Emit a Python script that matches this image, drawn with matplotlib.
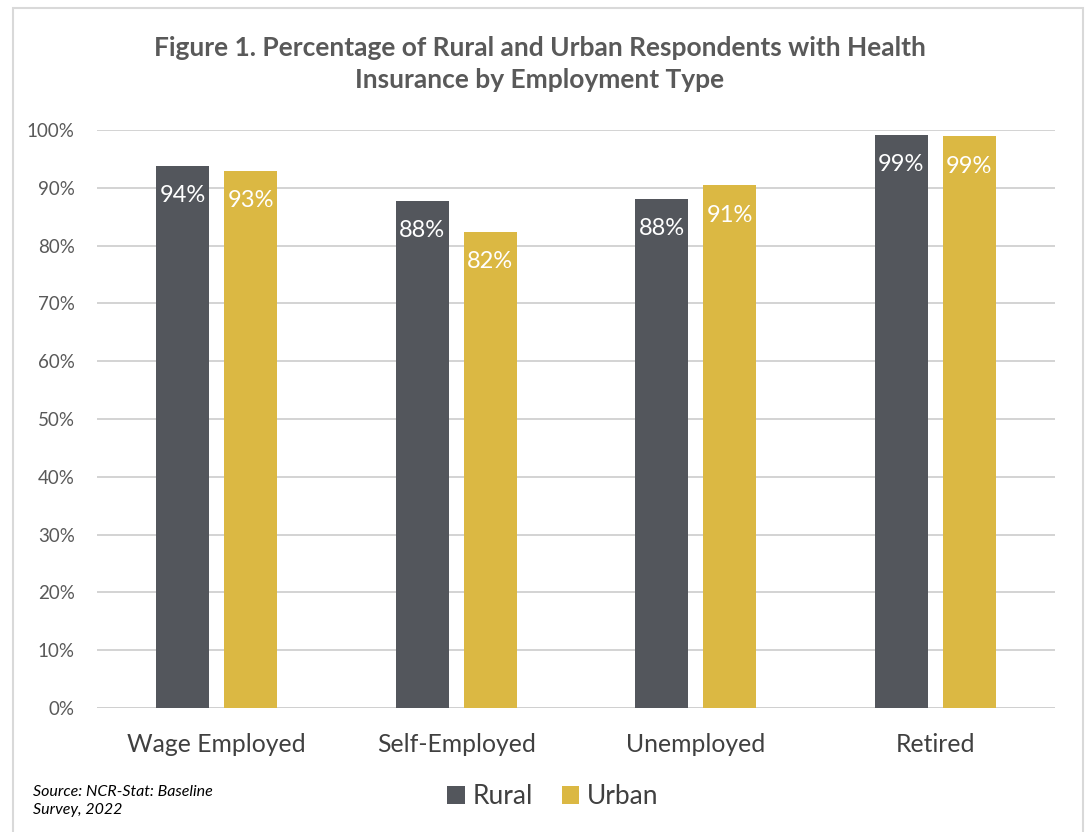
import matplotlib
matplotlib.use('Agg')
import matplotlib.pyplot as plt
import numpy as np
from matplotlib.patches import Rectangle

categories = ["Wage Employed", "Self-Employed", "Unemployed", "Retired"]
rural = [93.8, 87.8, 88.1, 99.2]
urban = [92.9, 82.4, 90.4, 98.9]
rural_labels = ["94%", "88%", "88%", "99%"]
urban_labels = ["93%", "82%", "91%", "99%"]
yticks = list(range(0, 101, 10))

plt.rcParams['font.family'] = ['Lato', 'DejaVu Sans']
grey_txt = "#595959"
c_rural = "#53565c"
c_urban = "#dbb843"

fig = plt.figure(figsize=(10.86, 8.32), dpi=100)
W, H = 1086, 832
ax = fig.add_axes([97 / W, 1 - 708 / H, (1055 - 97) / W, (708 - 130) / H])

# outer chart frame
fig.patches.append(Rectangle((13 / W, -0.05), (1083 - 13) / W, 1.05 - 8 / H,
                             transform=fig.transFigure, fill=False,
                             edgecolor="#d9d9d9", lw=1.5))

x = np.arange(len(categories))
w = 0.222
off = 0.142
b1 = ax.bar(x - off, rural, w, color=c_rural, label="Rural", zorder=3)
b2 = ax.bar(x + off, urban, w, color=c_urban, label="Urban", zorder=3)

for bars, labs in ((b1, rural_labels), (b2, urban_labels)):
    for b, t in zip(bars, labs):
        ax.annotate(t, (b.get_x() + b.get_width() / 2, b.get_height()),
                    xytext=(0, -14), textcoords="offset points",
                    ha="center", va="top", color="white", fontsize=17, zorder=4)

ax.set_xlim(-0.5, len(categories) - 0.5)
ax.set_ylim(0, 100)
ax.set_yticks(yticks)
ax.set_yticklabels([f"{v}%" for v in yticks], fontsize=13.5, color=grey_txt)
ax.set_xticks(x)
ax.set_xticklabels(categories, fontsize=17.8, color="#404040")
ax.tick_params(length=0)
ax.tick_params(axis='y', pad=16)
ax.tick_params(axis='x', pad=18)
ax.grid(axis='y', color="#d0d0d0", lw=1.3, zorder=0)
for s in ax.spines.values():
    s.set_visible(False)
ax.axhline(0, color="#d0d0d0", lw=1.3, zorder=1)

fig.text(540 / W, 1 - 64 / H,
         "Figure 1. Percentage of Rural and Urban Respondents with Health\nInsurance by Employment Type",
         ha="center", va="center", fontsize=19, fontweight="bold",
         color=grey_txt, linespacing=1.45)

fig.text(33 / W, 1 - 801 / H, "Source: NCR-Stat: Baseline\nSurvey, 2022",
         ha="left", va="center", fontsize=11.5, style="italic", color="black",
         linespacing=1.45)

fig.legend(handles=[b1, b2], loc="center", bbox_to_anchor=(553 / W, 1 - 797 / H),
           ncol=2, frameon=False, fontsize=19, handlelength=0.65, handleheight=0.65,
           handletextpad=0.3, columnspacing=1.1, labelcolor="#404040")

fig.savefig("out.png", dpi=100, facecolor="white")
